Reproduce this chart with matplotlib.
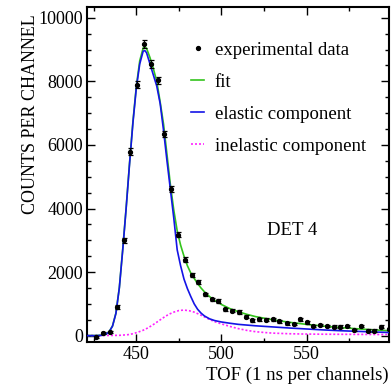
import matplotlib
matplotlib.use("Agg")
import matplotlib.pyplot as plt
from matplotlib.ticker import MultipleLocator
from matplotlib.lines import Line2D

# ---- data ----
data_x = [426.5, 430.4, 434.3, 438.6, 442.6, 446.5, 450.6, 454.5, 458.5, 462.6,
          466.5, 470.4, 474.5, 478.5, 482.6, 486.5, 490.4, 494.4, 498.2, 502.2,
          506.1, 510.4, 514.4, 518.2, 522.2, 526.3, 530.2, 534.1, 538.5, 542.4,
          546.3, 550.2, 554.1, 558.1, 562.0, 565.9, 569.8, 573.8, 577.7, 582.0,
          585.9, 589.8, 593.8, 598.2]
data_y = [-40, 80, 120, 890, 3000, 5790, 7890, 9170, 8550, 8030,
          6350, 4610, 3180, 2390, 1900, 1690, 1300, 1150, 1090, 830,
          780, 745, 600, 490, 520, 500, 520, 450, 395, 365,
          520, 415, 310, 330, 310, 280, 280, 310, 185, 310,
          155, 155, 280, 205]
data_err = [40, 40, 40, 60, 80, 100, 110, 130, 120, 110,
            100, 90, 80, 70, 60, 60, 55, 50, 50, 50,
            50, 50, 45, 45, 45, 45, 45, 45, 45, 45,
            45, 45, 40, 40, 40, 40, 40, 40, 40, 40,
            40, 40, 40, 40]

elastic_x = [421, 426, 430, 432, 434, 436, 438, 440, 442, 444, 446, 448, 450, 452,
             454, 455, 456, 458, 460, 462, 464, 466, 468, 470, 472, 474, 476, 478,
             480, 482, 484, 486, 488, 490, 493, 496, 500, 505, 510, 520, 530, 540,
             550, 560, 570, 580, 590, 598]
elastic_y = [0, 0, 10, 40, 120, 300, 700, 1500, 2700, 4000, 5400, 6700, 7800, 8550,
             8950, 8970, 8900, 8550, 8200, 7850, 7300, 6450, 5500, 4600, 3700, 2700, 2200, 1780,
             1480, 1230, 1000, 830, 710, 620, 530, 475, 430, 390, 355, 310, 275, 240,
             210, 180, 155, 135, 115, 100]

fit_x = [421, 426, 430, 432, 434, 436, 438, 440, 442, 444, 446, 448, 450, 452,
         454, 455, 456, 458, 460, 462, 464, 466, 468, 470, 472, 474, 476, 478,
         480, 482, 484, 486, 488, 490, 493, 496, 500, 505, 510, 515, 520, 530,
         540, 550, 560, 570, 580, 590, 598]
fit_y = [5, 5, 15, 45, 125, 305, 710, 1510, 2720, 4020, 5430, 6740, 7850, 8650,
         9050, 9080, 9040, 8750, 8400, 8000, 7350, 6650, 5700, 4750, 3950, 3300, 2850, 2500,
         2200, 1970, 1800, 1640, 1500, 1380, 1230, 1110, 980, 850, 750, 670, 600, 500,
         420, 355, 300, 255, 215, 180, 155]

inel_x = [421, 430, 440, 445, 448, 451, 454, 457, 460, 463, 466, 469, 472, 475,
          478, 481, 484, 487, 490, 493, 496, 500, 505, 510, 515, 520, 525, 530,
          540, 550, 560, 580, 598]
inel_y = [5, 5, 10, 30, 60, 110, 170, 250, 350, 460, 570, 670, 740, 790,
          805, 785, 740, 670, 590, 510, 440, 370, 290, 220, 165, 125, 100, 80,
          60, 50, 45, 40, 35]

x_ticks = [450, 500, 550]
y_ticks = [0, 2000, 4000, 6000, 8000, 10000]

# ---- figure ----
plt.rcParams['font.family'] = ['Liberation Serif', 'DejaVu Serif']
fig = plt.figure(figsize=(3.91, 3.89), dpi=100)
ax = fig.add_axes([0.2225, 0.1208, 0.7725, 0.8612])

c_fit = '#33c41c'
c_el = '#1414e6'
c_in = '#ff22ff'

ax.plot(inel_x, inel_y, color=c_in, lw=1.2, ls=(0, (1.2, 1.2)), zorder=2)
ax.plot(elastic_x, elastic_y, color=c_el, lw=1.2, zorder=3)
ax.plot(fit_x, fit_y, color=c_fit, lw=1.2, zorder=2.5)
ax.errorbar(data_x, data_y, yerr=data_err, fmt='o', color='black', ms=2.8,
            elinewidth=0.9, capsize=1.8, capthick=0.9, zorder=4)

ax.set_xlim(421, 598.5)
ax.set_ylim(-200, 10340)
ax.set_xticks(x_ticks)
ax.set_yticks(y_ticks)
ax.xaxis.set_minor_locator(MultipleLocator(25))
ax.yaxis.set_minor_locator(MultipleLocator(500))
ax.tick_params(which='both', direction='in', top=True, right=True, labelsize=13,
               width=1.0)
ax.tick_params(which='major', length=6, pad=3)
ax.tick_params(which='minor', length=3)
for s in ax.spines.values():
    s.set_linewidth(1.5)

fig.text(0.078, 0.707, 'COUNTS PER CHANNEL', rotation=90, ha='center', va='center',
         fontsize=13)
fig.text(0.994, 0.036, 'TOF (1 ns per channels)', ha='right', va='center', fontsize=13.5)
ax.text(541.5, 3300, 'DET 4', ha='center', va='center', fontsize=13.5)

handles = [Line2D([], [], ls='none', marker='o', color='black', ms=2.8),
           Line2D([], [], color=c_fit, lw=1.2),
           Line2D([], [], color=c_el, lw=1.2),
           Line2D([], [], color=c_in, lw=1.2, ls=(0, (1.2, 1.2)))]
labels = ['experimental data', 'fit', 'elastic component', 'inelastic component']
ax.legend(handles, labels, loc='upper left', bbox_to_anchor=(0.345, 0.897),
          frameon=False, fontsize=13.5, handlelength=0.7, handletextpad=0.55,
          labelspacing=0.8, borderpad=0, borderaxespad=0)

fig.savefig('out.png', dpi=100)
